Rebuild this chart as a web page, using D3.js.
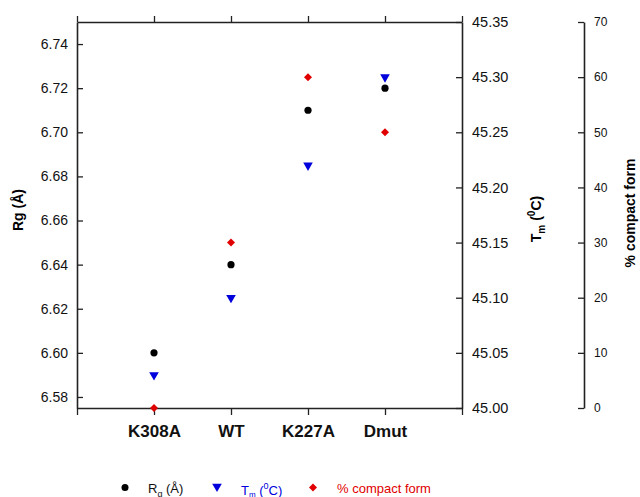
<!DOCTYPE html>
<html><head><meta charset="utf-8">
<script src="https://cdn.jsdelivr.net/npm/d3@7"></script>
<style>body{margin:0;background:#fff}svg{display:block;font-family:"Liberation Sans",Arial,sans-serif}</style>
</head><body>
<svg id="c" width="640" height="497"></svg>
<script>
const categories = ["K308A","WT","K227A","Dmut"];
const rgValues = [6.60, 6.64, 6.71, 6.72];
const tmValues = [45.03, 45.10, 45.22, 45.30];
const compactValues = [0, 30, 60, 50];
const rgTicks = [6.58,6.60,6.62,6.64,6.66,6.68,6.70,6.72,6.74];
const tmTicks = [45.00,45.05,45.10,45.15,45.20,45.25,45.30,45.35];
const compactTicks = [0,10,20,30,40,50,60,70];

const svg = d3.select("#c");
const L=77, R=462, T=22, B=408;
const x = d3.scaleLinear().domain([0,5]).range([L,R]);
const yRg = d3.scaleLinear().domain([6.575,6.75]).range([B,T]);
const yTm = d3.scaleLinear().domain([45.0,45.35]).range([B,T]);
const yC = d3.scaleLinear().domain([0,70]).range([B,T]);

function style(g, fs){
  g.selectAll("path.domain").attr("stroke","#222").attr("stroke-width",1.6);
  g.selectAll(".tick line").attr("stroke","#222").attr("stroke-width",1.3);
  g.selectAll(".tick text").attr("fill","#111").style("font-size",fs+"px").style("font-family","Liberation Sans, Arial, sans-serif");
}
// bottom axis
const gb = svg.append("g").attr("transform",`translate(0,${B})`)
  .call(d3.axisBottom(x).tickValues([0,1,2,3,4,5]).tickSize(7).tickSizeOuter(0).tickFormat(d=>categories[d-1]||""));
style(gb,17);
gb.selectAll(".tick text").style("font-weight","bold").attr("dy","1.1em");
// top axis
const gt = svg.append("g").attr("transform",`translate(0,${T})`)
  .call(d3.axisTop(x).tickValues([0,1,2,3,4,5]).tickSize(6).tickSizeOuter(0).tickFormat(""));
style(gt,12);
// left axis
const gl = svg.append("g").attr("transform",`translate(${L},0)`)
  .call(d3.axisLeft(yRg).tickValues(rgTicks).tickSize(-6).tickSizeOuter(0).tickPadding(9).tickFormat(d3.format(".2f")));
style(gl,14);
// Tm axis
const gr = svg.append("g").attr("transform",`translate(${R},0)`)
  .call(d3.axisRight(yTm).tickValues(tmTicks).tickSize(-6).tickSizeOuter(0).tickPadding(10).tickFormat(d3.format(".2f")));
style(gr,14.5);
// compact axis
const A3 = 584;
const g3 = svg.append("g").attr("transform",`translate(${A3},0)`)
  .call(d3.axisRight(yC).tickValues(compactTicks).tickSize(-6).tickSizeOuter(0).tickPadding(10).tickFormat(d3.format("d")));
style(g3,12);

// axis titles
svg.append("text").attr("transform","translate(23,210) rotate(-90)").attr("text-anchor","middle")
  .style("font-size","14px").style("font-weight","bold").text("Rg (Å)");
const tt = svg.append("text").attr("transform","translate(541,219) rotate(-90)").attr("text-anchor","middle")
  .style("font-size","14px").style("font-weight","bold");
tt.append("tspan").text("T");
tt.append("tspan").attr("dy",4).style("font-size","10px").text("m");
tt.append("tspan").attr("dy",-4).text(" (");
tt.append("tspan").attr("dy",-6).style("font-size","10px").text("0");
tt.append("tspan").attr("dy",6).text("C)");
svg.append("text").attr("transform","translate(635,213) rotate(-90)").attr("text-anchor","middle")
  .style("font-size","14px").style("font-weight","bold").text("% compact form");

// markers
const tri = d3.symbol().type(d3.symbolTriangle).size(40);
const dia = d3.symbol().type(d3.symbolSquare).size(32);
svg.append("g").selectAll("circle").data(rgValues).join("circle")
  .attr("cx",(d,i)=>x(i+1)).attr("cy",d=>yRg(d)).attr("r",3.6).attr("fill","#000");
svg.append("g").selectAll("path").data(tmValues).join("path")
  .attr("d",tri).attr("fill","#0000dd")
  .attr("transform",(d,i)=>`translate(${x(i+1)},${yTm(d)}) rotate(180)`);
svg.append("g").selectAll("path").data(compactValues).join("path")
  .attr("d",dia).attr("fill","#e00000")
  .attr("transform",(d,i)=>`translate(${x(i+1)},${yC(d)}) rotate(45)`);

// legend
const lg = svg.append("g");
lg.append("circle").attr("cx",125).attr("cy",487.5).attr("r",3.5).attr("fill","#000");
const l1 = lg.append("text").attr("x",148).attr("y",492.5).style("font-size","13px").attr("fill","#111");
l1.append("tspan").text("R");
l1.append("tspan").attr("dy",4).style("font-size","9px").text("g");
l1.append("tspan").attr("dy",-4).text(" (Å)");
lg.append("path").attr("d",tri).attr("fill","#0000dd").attr("transform","translate(217,486.5) rotate(180)");
const l2 = lg.append("text").attr("x",241).attr("y",494.5).style("font-size","13px").attr("fill","#0000dd");
l2.append("tspan").text("T");
l2.append("tspan").attr("dy",2).style("font-size","8px").text("m");
l2.append("tspan").attr("dy",-2).text(" (");
l2.append("tspan").attr("dy",-6).style("font-size","9px").text("0");
l2.append("tspan").attr("dy",6).text("C)");
lg.append("path").attr("d",dia).attr("fill","#e00000").attr("transform","translate(313,487.5) rotate(45)");
lg.append("text").attr("x",337).attr("y",492.5).style("font-size","13px").attr("fill","#e00000").text("% compact form");
</script>
</body></html>
